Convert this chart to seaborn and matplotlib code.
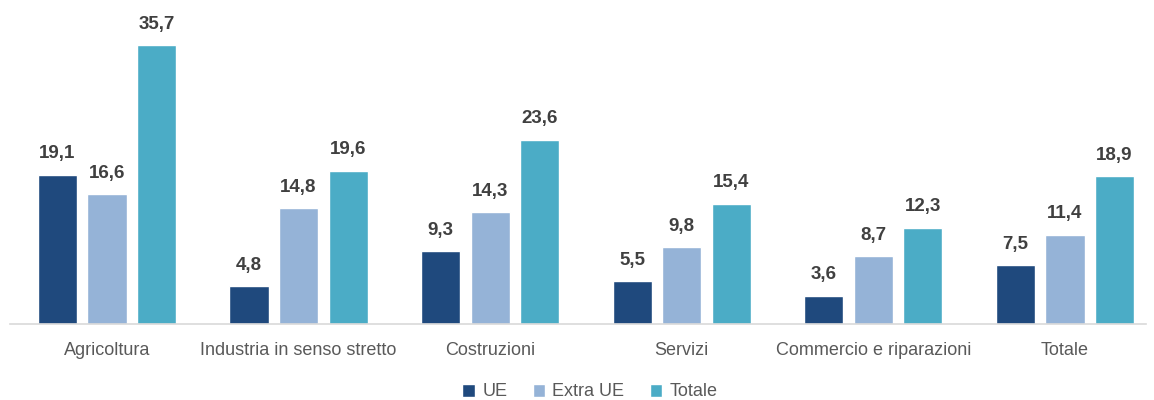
import pandas as pd
import matplotlib.pyplot as plt
import seaborn as sns
from matplotlib.patches import Patch

settori = ['Agricoltura', 'Industria in senso stretto', 'Costruzioni',
           'Servizi', 'Commercio e riparazioni', 'Totale']
serie = ['UE', 'Extra UE', 'Totale']
ue = [19.1, 4.8, 9.3, 5.5, 3.6, 7.5]
extra_ue = [16.6, 14.8, 14.3, 9.8, 8.7, 11.4]
totale = [35.7, 19.6, 23.6, 15.4, 12.3, 18.9]
colori = ['#1F497D', '#95B3D7', '#4BACC6']

df = pd.DataFrame({'Settore': settori * 3,
                   'Serie': [s for s in serie for _ in settori],
                   'Valore': ue + extra_ue + totale})

sns.set_style('white')
plt.rcParams['font.family'] = ['Liberation Sans Narrow', 'Liberation Sans', 'DejaVu Sans']

fig = plt.figure(figsize=(11.54, 4.0), dpi=100)
ax = fig.add_axes([10 / 1154, 76 / 400, 1136 / 1154, 312.6 / 400])

sns.barplot(data=df, x='Settore', y='Valore', hue='Serie', order=settori,
            hue_order=serie, palette=colori, width=0.776, gap=0.21,
            saturation=1, ax=ax, legend=False)

# etichette con virgola decimale
for cont in ax.containers:
    labels = [f'{v:.1f}'.replace('.', ',') for v in cont.datavalues]
    ax.bar_label(cont, labels=labels, padding=9, fontsize=13.5,
                 fontweight='bold', color='#404040')

ax.set_xlim(-0.506, 5.423)
ax.set_ylim(0, 40)
ax.set_yticks([])
ax.set_xlabel('')
ax.set_ylabel('')
for s in ['top', 'right', 'left']:
    ax.spines[s].set_visible(False)
ax.spines['bottom'].set_color('#D9D9D9')
ax.spines['bottom'].set_linewidth(1.2)
ax.tick_params(axis='x', length=0, pad=13, labelsize=13, labelcolor='#595959')

handles = [Patch(facecolor=c, label=s) for c, s in zip(colori, serie)]
fig.legend(handles=handles, loc='center', bbox_to_anchor=(590 / 1154, 1 - 392 / 400),
           ncol=3, frameon=False, fontsize=13, handlelength=0.7, handleheight=0.7,
           handletextpad=0.4, columnspacing=1.4, labelcolor='#595959')

fig.savefig('out.png', dpi=100)
